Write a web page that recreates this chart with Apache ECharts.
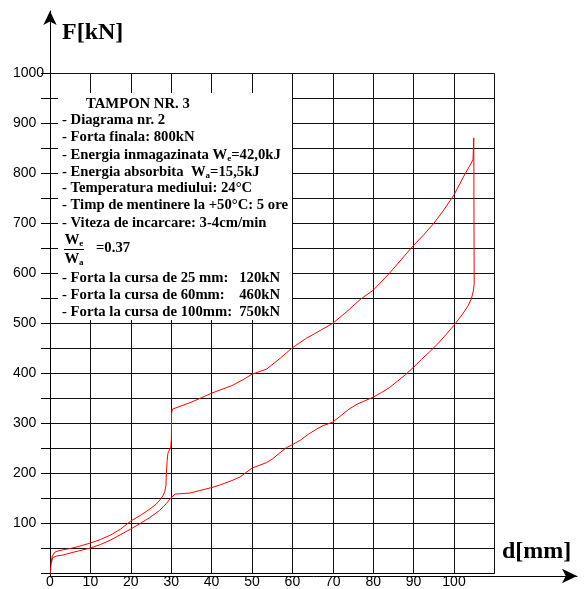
<!DOCTYPE html>
<html>
<head>
<meta charset="utf-8">
<script src="https://cdn.jsdelivr.net/npm/echarts@6.0.0/dist/echarts.min.js"></script>
<style>
  html, body { margin: 0; padding: 0; background: #fff; }
  #chart { width: 584px; height: 589px; }
</style>
</head>
<body>
<div id="chart"></div>
<script>
// incarcare (curba de sus): cursa d [mm] si forta F [kN]
const loadD = [0.1, 0.3, 0.5, 1, 1.5, 3, 5, 7, 10, 12.5, 15, 17.5, 20, 22.5, 24.7, 26.3, 27.3, 28, 28.4, 28.7, 28.8, 29.0, 29.2, 29.9, 30.05, 30.1, 30.3,
  35, 40, 45, 48, 50, 53.6, 57, 60, 63.5, 67, 70, 73, 77, 80, 84, 87, 90, 92.5, 95, 97.5, 100, 102.2, 104.7, 104.9];
const loadF = [0, 20, 32, 40, 43, 46, 49, 53, 60, 67, 76, 88, 104, 116, 128, 138, 147, 155, 163, 175, 200, 225, 240, 252, 270, 320, 328,
  342, 360, 375, 388, 398, 408, 430, 451, 470, 486, 500, 520, 549, 566, 600, 628, 656, 677, 700, 727, 757, 791, 827, 871];

// descarcare (curba de jos)
const unloadD = [104.9, 104.95, 105, 104.8, 104.3, 103.5, 102, 100, 98, 96, 94, 92, 90, 88, 86, 84, 82, 80, 78, 76, 74, 72, 70,
  67.6, 66, 64, 62, 60, 58.5, 55, 53.6, 50, 47, 45, 42, 40, 37, 34.6, 31, 30, 28.8, 27.1, 24.7, 22.5, 20, 17.5, 15, 12.5, 10, 7, 5, 3.2, 1.6, 0.7, 0.3];
const unloadF = [871, 700, 580, 565, 549, 535, 517, 496, 477, 459, 443, 428, 412, 397, 384, 371, 361, 352, 345, 338, 328, 315, 302,
  295, 288, 278, 266, 257, 251, 228, 221, 210, 192, 185, 176, 171, 165, 160, 158, 151, 139, 125, 111, 100, 88, 77, 66, 57, 50, 44, 40, 36, 34, 31, 20];

const xLabels = [0, 10, 20, 30, 40, 50, 60, 70, 80, 90, 100];
const yLabels = [100, 200, 300, 400, 500, 600, 700, 800, 900, 1000];

const infoLines = [
  '- Diagrama nr. 2',
  '- Forta finala: 800kN',
  '{n|- Energia inmagazinata W}{s|e}{n|=42,0kJ}',
  '{n|- Energia absorbita  W}{s|a}{n|=15,5kJ}',
  '- Temperatura mediului: 24°C',
  '- Timp de mentinere la +50°C: 5 ore',
  '- Viteza de incarcare: 3-4cm/min'
];
const strokeLabels = ['- Forta la cursa de 25 mm:', '- Forta la cursa de 60mm:', '- Forta la cursa de 100mm:'];
const strokeValues = ['120kN', '460kN', '750kN'];

const serif = '"Liberation Serif", "Times New Roman", serif';
const sans = '"Liberation Sans", Arial, sans-serif';
const textFont = 'bold 14.7px ' + serif;

function zip(a, b) {
  return a.map((v, i) => [v, b[i]]);
}

const chart = echarts.init(document.getElementById('chart'));

const graphics = [
  {
    type: 'rect', z: 10,
    shape: { x: 58, y: 93, width: 234, height: 227 },
    style: { fill: '#fff' }
  },
  {
    type: 'text', z: 11,
    style: { text: 'TAMPON NR. 3', x: 86, y: 104, font: textFont, fill: '#000', verticalAlign: 'middle' }
  }
];

const rich = {
  n: { font: textFont, fill: '#000' },
  s: { font: 'bold 9px ' + serif, fill: '#000', padding: [7, 0, 0, 0] }
};

const lineY = [120, 137, 155, 172, 188, 205, 223];
infoLines.forEach((t, i) => {
  graphics.push({
    type: 'text', z: 11,
    style: { text: t, rich: rich, x: 62, y: lineY[i], font: textFont, fill: '#000', verticalAlign: 'middle' }
  });
});

// raportul We / Wa
graphics.push(
  { type: 'text', z: 11, style: { text: '{n|W}{s|e}', rich: rich, x: 74, y: 240, font: textFont, fill: '#000', align: 'center', verticalAlign: 'middle' } },
  { type: 'line', z: 11, shape: { x1: 64, y1: 249.5, x2: 84, y2: 249.5 }, style: { stroke: '#000', lineWidth: 1 } },
  { type: 'text', z: 11, style: { text: '{n|W}{s|a}', rich: rich, x: 74, y: 259, font: textFont, fill: '#000', align: 'center', verticalAlign: 'middle' } },
  { type: 'text', z: 11, style: { text: '=0.37', x: 96, y: 248, font: textFont, fill: '#000', verticalAlign: 'middle' } }
);

const strokeY = [278, 295, 312];
strokeLabels.forEach((t, i) => {
  graphics.push(
    { type: 'text', z: 11, style: { text: t, x: 62, y: strokeY[i], font: textFont, fill: '#000', verticalAlign: 'middle' } },
    { type: 'text', z: 11, style: { text: strokeValues[i], x: 280, y: strokeY[i], font: textFont, fill: '#000', align: 'right', verticalAlign: 'middle' } }
  );
});

// numele axelor
graphics.push(
  { type: 'text', z: 11, style: { text: 'F[kN]', x: 62, y: 33, font: 'bold 24px ' + serif, fill: '#000', verticalAlign: 'middle' } },
  { type: 'text', z: 11, style: { text: 'd[mm]', x: 502, y: 552, font: 'bold 24px ' + serif, fill: '#000', verticalAlign: 'middle' } }
);

const option = {
  animation: false,
  backgroundColor: '#fff',
  grid: [
    { left: 50, top: 73.5, width: 444.4, height: 502.5 },
    { left: 50, top: 11, width: 527, height: 565 }
  ],
  xAxis: [
    {
      gridIndex: 0, type: 'value', min: 0, max: 110, interval: 10,
      axisLine: { show: true, lineStyle: { color: '#000', width: 1 } },
      axisTick: { show: false },
      splitLine: { show: true, lineStyle: { color: '#111', width: 1 } },
      axisLabel: {
        margin: 2, fontSize: 14, fontFamily: sans, color: '#000',
        formatter: v => (xLabels.indexOf(v) >= 0 ? String(v) : '')
      }
    },
    {
      gridIndex: 1, type: 'value', min: 0, max: 1,
      axisLine: { show: true, symbol: ['none', 'arrow'], symbolSize: [11, 15], lineStyle: { color: '#000', width: 1 } },
      axisTick: { show: false }, axisLabel: { show: false }, splitLine: { show: false }
    }
  ],
  yAxis: [
    {
      gridIndex: 0, type: 'value', min: 0, max: 1000, interval: 50,
      axisLine: { show: true, lineStyle: { color: '#000', width: 1 } },
      axisTick: { show: true, length: 9, lineStyle: { color: '#000' } },
      splitLine: { show: true, lineStyle: { color: '#111', width: 1 } },
      axisLabel: {
        margin: 37, align: 'left', fontSize: 14, fontFamily: sans, color: '#000',
        formatter: v => (yLabels.indexOf(v) >= 0 ? String(v) : '')
      }
    },
    {
      gridIndex: 1, type: 'value', min: 0, max: 1,
      axisLine: { show: true, symbol: ['none', 'arrow'], symbolSize: [10, 14], lineStyle: { color: '#000', width: 1 } },
      axisTick: { show: false }, axisLabel: { show: false }, splitLine: { show: false }
    }
  ],
  series: [
    {
      name: 'incarcare', type: 'line', xAxisIndex: 0, yAxisIndex: 0,
      data: zip(loadD, loadF), showSymbol: false, symbol: 'none', z: 5,
      lineStyle: { color: '#ff0000', width: 1 }
    },
    {
      name: 'descarcare', type: 'line', xAxisIndex: 0, yAxisIndex: 0,
      data: zip(unloadD, unloadF), showSymbol: false, symbol: 'none', z: 5,
      lineStyle: { color: '#ff0000', width: 1 }
    }
  ],
  graphic: graphics
};

chart.setOption(option);
</script>
</body>
</html>
